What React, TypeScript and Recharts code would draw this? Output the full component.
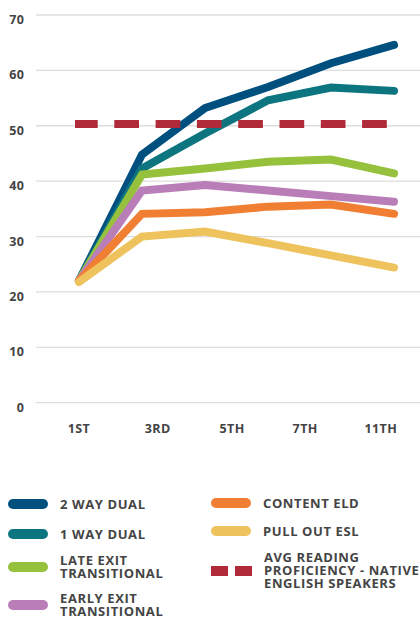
import { LineChart, Line, XAxis, YAxis, CartesianGrid } from 'recharts';

// grade labels sit on their own ticks; the six measurement steps are spread evenly
const gradeLabels = ['1ST', '3RD', '5TH', '7TH', '11TH'];
const gradeTicks = [0, 1.25, 2.43, 3.59, 4.79];
const steps = [0, 1, 2, 3, 4, 5];
const yTicks = [0, 10, 20, 30, 40, 50, 60, 70];

const twoWayDual = [22, 44.8, 53.2, 57.0, 61.3, 64.6];
const oneWayDual = [22, 42.3, 48.6, 54.6, 56.9, 56.3];
const lateExit = [22, 41.2, 42.3, 43.5, 43.9, 41.4];
const earlyExit = [22, 38.3, 39.3, 38.3, 37.3, 36.3];
const contentEld = [22, 34.1, 34.4, 35.4, 35.8, 34.1];
const pullOutEsl = [21.8, 30.0, 30.9, 28.8, 26.6, 24.4];
const nativeAvg = [50.3, 50.3, 50.3, 50.3, 50.3, 50.3];

const series = [
  { key: 'twoWay', name: '2 WAY DUAL', color: '#00507f', values: twoWayDual },
  { key: 'oneWay', name: '1 WAY DUAL', color: '#0d7580', values: oneWayDual },
  { key: 'late', name: 'LATE EXIT\nTRANSITIONAL', color: '#95c13d', values: lateExit },
  { key: 'early', name: 'EARLY EXIT\nTRANSITIONAL', color: '#b97db8', values: earlyExit },
  { key: 'content', name: 'CONTENT ELD', color: '#f07f33', values: contentEld },
  { key: 'pullOut', name: 'PULL OUT ESL', color: '#eec35e', values: pullOutEsl },
];
const native = {
  key: 'native',
  name: 'AVG READING\nPROFICIENCY - NATIVE\nENGLISH SPEAKERS',
  color: '#b12a3a',
  values: nativeAvg,
};

const data = steps.map((step, i) => {
  const row: Record<string, number> = { step };
  series.forEach((s) => { row[s.key] = s.values[i]; });
  row[native.key] = native.values[i];
  return row;
});

const FONT = "'Open Sans', sans-serif";
const TEXT = '#444444';

function GradeTick({ x, y, payload }: any) {
  const idx = gradeTicks.indexOf(payload.value);
  return (
    <text x={x} y={y + 22.5} textAnchor="middle" fill={TEXT}
      fontFamily={FONT} fontWeight={700} fontSize={12.5} letterSpacing={0.4}>
      {gradeLabels[idx]}
    </text>
  );
}

function ValueTick({ x, y, payload }: any) {
  return (
    <text x={x - 3.7} y={y + 9} textAnchor="end" fill={TEXT}
      fontFamily={FONT} fontWeight={700} fontSize={12.5} letterSpacing={0.4}>
      {payload.value}
    </text>
  );
}

function Swatch({ color, dashed }: { color: string; dashed?: boolean }) {
  if (dashed) {
    return (
      <div style={{ display: 'flex', gap: 7, width: 41, flexShrink: 0 }}>
        <div style={{ width: 17, height: 10, background: color }} />
        <div style={{ width: 17, height: 10, background: color }} />
      </div>
    );
  }
  return <div style={{ width: 40, height: 10, borderRadius: 5, background: color, flexShrink: 0 }} />;
}

function LegendItem({ name, color, left, top, dashed }: any) {
  return (
    <div style={{ position: 'absolute', left, top, display: 'flex', alignItems: 'center' }}>
      <Swatch color={color} dashed={dashed} />
      <div style={{
        marginLeft: 12, whiteSpace: 'pre', fontFamily: FONT, fontWeight: 700, fontSize: 13,
        lineHeight: '13.3px', letterSpacing: 0.6, color: TEXT,
      }}>
        {name}
      </div>
    </div>
  );
}

const leftTops = [497.6, 527.6, 553.6, 591.6];
const rightTops = [496.6, 524.6];

export default function App() {
  return (
    <div style={{ position: 'absolute', left: 0, top: 0, width: 420, height: 617, overflow: 'hidden', background: '#fff' }}>
      <LineChart width={420} height={440} data={data} margin={{ top: 15, right: 0, bottom: 7.3, left: 0 }}>
        <CartesianGrid vertical={false} stroke="#dddddd" strokeWidth={1.3} />
        <XAxis dataKey="step" type="number" domain={[0, 5]} ticks={gradeTicks} interval={0}
          padding={{ left: 43, right: 26 }} axisLine={false} tickLine={false} tick={<GradeTick />} />
        <YAxis type="number" domain={[0, 70]} ticks={yTicks} interval={0} width={36}
          axisLine={false} tickLine={false} tick={<ValueTick />} />
        {series.map((s) => (
          <Line key={s.key} dataKey={s.key} name={s.name} type="linear" stroke={s.color}
            strokeWidth={8} strokeLinecap="round" dot={false} activeDot={false} isAnimationActive={false} />
        ))}
        <Line dataKey={native.key} name={native.name} type="linear" stroke={native.color}
          strokeWidth={8} strokeDasharray="16.7 24.6" strokeDashoffset={2} strokeLinecap="square"
          dot={false} activeDot={false} isAnimationActive={false} />
      </LineChart>
      {series.slice(0, 4).map((s, i) => (
        <LegendItem key={s.key} name={s.name} color={s.color} left={8} top={leftTops[i]} />
      ))}
      {series.slice(4).map((s, i) => (
        <LegendItem key={s.key} name={s.name} color={s.color} left={211} top={rightTops[i]} />
      ))}
      <LegendItem name={native.name} color={native.color} left={211} top={550.6} dashed />
    </div>
  );
}
